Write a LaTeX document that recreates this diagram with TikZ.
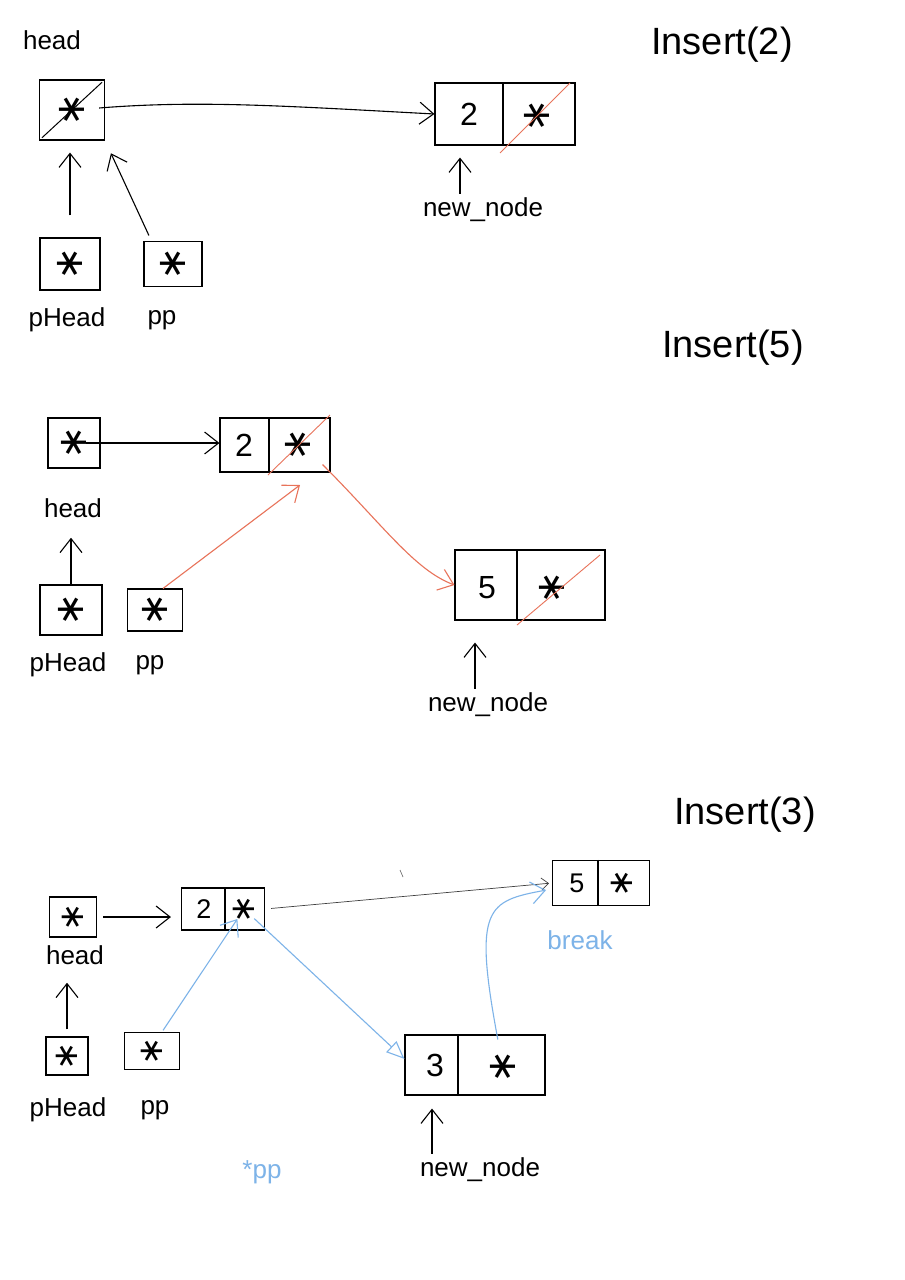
\documentclass[tikz,border=0pt]{standalone}
\usepackage{fontspec}
\setmainfont{Liberation Sans}
\newfontfamily\sym{DejaVu Sans}
\usetikzlibrary{arrows.meta,calc}
\definecolor{redc}{HTML}{E8735A}
\definecolor{bluec}{HTML}{7DB3E8}
\tikzset{
  box/.style={draw, line width=1.1pt, inner sep=0pt},
  ptr/.style={font=\sym\fontsize{40}{40}\selectfont, rotate=90, inner sep=0pt},
  ptrs/.style={font=\sym\fontsize{34}{34}\selectfont, rotate=90, inner sep=0pt},
  val/.style={font=\fontsize{32}{32}\selectfont, inner sep=0pt},
  vals/.style={font=\fontsize{27}{27}\selectfont, inner sep=0pt},
  lbl/.style={font=\fontsize{26}{26}\selectfont, inner sep=2pt},
  ttl/.style={font=\fontsize{38}{38}\selectfont, inner sep=2pt},
  divider/.style={line width=1.1pt},
  slash/.style={draw=redc, line width=0.9pt},
  arr/.style={-{Straight Barb[length=14pt,width=22pt]}, line width=1.1pt},
  redarr/.style={arr, draw=redc},
  bluearr/.style={arr, draw=bluec},
  oldlink/.style={-{Straight Barb[length=7pt,width=12pt]}, line width=0.7pt, draw=black!75},
}
\begin{document}
\begin{tikzpicture}[x=1pt, y=-1pt]
\fill[white] (0,0) rectangle (905,1280);
\useasboundingbox (0,0) rectangle (905,1280);

% ---------------- Insert(2) ----------------
\node[ttl] (t1) at (722,45) {Insert(2)};
\node[lbl] (h1l) at (52,40) {head};
\node[box, minimum width=65, minimum height=60] (h1) at (72,110) {};
\node[ptr] (h1p) at (h1) {∗};
\draw[line width=1pt, shorten <=4pt, shorten >=4pt] (h1.south west) -- (h1.north east);

\node[box, minimum width=140, minimum height=62] (n1) at (505,114) {};
\node[val] (n1v) at (469,114) {2};
\node[ptr] (n1p) at (537,116) {∗};
\draw[divider] ($(n1.north)+(-2,0)$) -- ($(n1.south)+(-2,0)$);
\draw[slash] ($(n1p)+(-37,37)$) -- ($(n1p)+(33,-33)$);

\draw[arr] ($(h1.east)+(-6,-2)$) .. controls +(100,-8) and +(-150,-8) .. (n1.west);

\node[lbl] (nn1) at (483,210) {new\_node};
\draw[arr, shorten <=2pt, shorten >=12pt] ($(nn1.north)+(-23,0)$) -- ($(n1.south)+(-45,0)$);

\node[box, minimum width=60, minimum height=52] (ph1) at (70,264) {};
\node[ptr] (ph1p) at (ph1) {∗};
\node[lbl] (ph1l) at (67,320) {pHead};
\node[box, minimum width=58, minimum height=45] (pp1) at (173,264) {};
\node[ptr] (pp1p) at (pp1) {∗};
\node[lbl] (pp1l) at (162,320) {pp};

\draw[arr, shorten <=22pt, shorten >=12pt] (ph1.north) -- (ph1.north |- h1.south);
\draw[arr, shorten <=6pt, shorten >=14pt] ($(pp1.north west)+(8,0)$) -- (h1.south east);

% ---------------- Insert(5) ----------------
\node[ttl] (t2) at (733,348) {Insert(5)};
\node[box, minimum width=52, minimum height=50] (h2) at (74,443) {};
\node[ptr] (h2p) at (h2) {∗};
\node[lbl] (h2l) at (73,508) {head};

\node[box, minimum width=110, minimum height=54] (n2) at (275,445) {};
\node[val] (n2v) at (244,445) {2};
\node[ptr] (n2p) at (298,445) {∗};
\draw[divider] ($(n2.north)+(-6,0)$) -- ($(n2.south)+(-6,0)$);
\draw[slash] ($(n2p)+(-30,30)$) -- ($(n2p)+(32,-30)$);
\draw[arr, shorten <=12pt] (h2.center) -- (h2.center -| n2.west);

\node[box, minimum width=62, minimum height=50] (ph2) at (71,610) {};
\node[ptr] (ph2p) at (ph2) {∗};
\node[lbl] (ph2l) at (68,665) {pHead};
\draw[arr, shorten >=18pt] (ph2.north) -- (ph2.north |- h2l.south);

\node[box, minimum width=55, minimum height=42] (pp2) at (155,610) {};
\node[ptr] (pp2p) at (pp2) {∗};
\node[lbl] (pp2l) at (150,665) {pp};

\node[box, minimum width=150, minimum height=70] (n5) at (530,585) {};
\node[val] (n5v) at (487,588) {5};
\node[ptr] (n5p) at (552,588) {∗};
\draw[divider] ($(n5.north)+(-13,0)$) -- ($(n5.south)+(-13,0)$);
\draw[slash] ($(n5p)+(-35,37)$) -- ($(n5p)+(48,-33)$);

\coordinate (c2) at (300,485);
\draw[redarr] ($(pp2.north)+(8,0)$) -- (c2);
\draw[redarr] ($(n2.south east)+(-8,-8)$) .. controls +(60,60) and +(-40,-15) .. (n5.west);

\node[lbl] (nn2) at (488,705) {new\_node};
\draw[arr, shorten <=2pt, shorten >=22pt] ($(nn2.north)+(-13,0)$) -- ($(n5.south)+(-55,0)$);

% ---------------- Insert(3) ----------------
\node[ttl] (t3) at (745,815) {Insert(3)};
\node[box, minimum width=47, minimum height=40] (h3) at (73,917) {};
\node[ptrs] (h3p) at (h3) {∗};
\node[lbl] (h3l) at (75,955) {head};

\node[box, minimum width=83, minimum height=42] (n2c) at (223,909) {};
\node[vals] (n2cv) at (204,909) {2};
\node[ptrs] (n2cp) at (244,909) {∗};
\draw[divider] ($(n2c.north)+(2,0)$) -- ($(n2c.south)+(2,0)$);
\draw[arr, shorten <=6pt, shorten >=10pt] (h3.east) -- (h3.east -| n2c.west);

\node[box, minimum width=97, minimum height=45] (n5c) at (601,883) {};
\node[vals] (n5cv) at (577,883) {5};
\node[ptrs] (n5cp) at (622,883) {∗};
\draw[divider] ($(n5c.north)+(-3,0)$) -- ($(n5c.south)+(-3,0)$);
\draw[oldlink, shorten <=6pt, shorten >=3pt] (n2c.east) -- (n5c.west);
\node[lbl, text=bluec] (brk) at (580,940) {break};
\draw[black!60, line width=0.6pt] (400,870) -- (403,877);

\node[box, minimum width=42, minimum height=38] (ph3) at (67,1056) {};
\node[ptrs] (ph3p) at (ph3) {∗};
\node[lbl] (ph3l) at (68,1110) {pHead};
\draw[arr, shorten <=7pt, shorten >=16pt] (ph3.north) -- (ph3.north |- h3l.south);

\node[box, minimum width=55, minimum height=37] (pp3) at (152,1051) {};
\node[ptrs] (pp3p) at (pp3) {∗};
\node[lbl] (pp3l) at (155,1110) {pp};

\node[box, minimum width=140, minimum height=60] (n3c) at (475,1065) {};
\node[val] (n3cv) at (435,1065) {3};
\node[ptr] (n3cp) at (503,1067) {∗};
\draw[divider] ($(n3c.north)+(-17,0)$) -- ($(n3c.south)+(-17,0)$);

\draw[bluearr, shorten <=2pt, shorten >=12pt] ($(pp3.north)+(10,0)$) -- (n2cp.center);
\draw[draw=bluec, line width=1.1pt, shorten <=14pt, -{Triangle[open, length=18pt, width=15pt]}] (n2cp.center) -- ($(n3c.north west)!0.4!(n3c.south west)$);
\draw[bluearr, shorten <=28pt, shorten >=6pt] (n3cp.center) .. controls +(-30,-160) and +(-65,12) .. ($(n5c.west)+(0,6)$);

\node[lbl] (nn3) at (480,1170) {new\_node};
\draw[arr, shorten <=2pt, shorten >=13pt] ($(nn3.north)+(-48,0)$) -- ($(n3c.south)+(-43,0)$);

\node[lbl, text=bluec] (spp) at (262,1172) {*pp};
\end{tikzpicture}
\end{document}
